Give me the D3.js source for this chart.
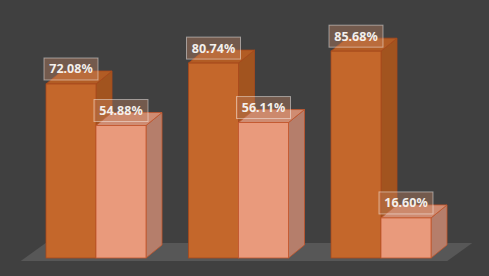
<!DOCTYPE html>
<html>
<head>
<meta charset="utf-8">
<script src="https://cdn.jsdelivr.net/npm/d3@7"></script>
<style>
  html, body { margin: 0; padding: 0; background: #404040; }
  svg { display: block; }
</style>
</head>
<body>
<div id="chart"></div>
<script>
// data
const categories = ["Group 1", "Group 2", "Group 3"]
const series = ["Series 1", "Series 2"]
const series1 = [72.08, 80.74, 85.68]
const series2 = [54.88, 56.11, 16.60]

const width = 489, height = 276
const depth = { dx: 16, dy: -13 }

const svg = d3.select("#chart")
    .append("svg")
        .attr("width", width)
        .attr("height", height)

svg.append("rect")
    .attr("width", width)
    .attr("height", height)
    .attr("fill", "#404040")

// scales
const x0 = d3.scaleBand()
    .domain(categories)
    .range([24.75, 452.25])
    .paddingInner(0.2982)
    .paddingOuter(0.1491)

const x1 = d3.scaleBand()
    .domain(series)
    .range([0, x0.bandwidth()])

const y = d3.scaleLinear()
    .domain([0, 100])
    .range([258, 16.6])

// floor
const fl = x0.range()[0] - 4, fr = x0.range()[1] - 5
const fy = y(0) + 3
svg.append("path")
    .attr("d", `M${fl},${fy} L${fr},${fy} L${fr + 25},${fy - 18} L${fl + 25},${fy - 18} Z`)
    .attr("fill", "#575757")

const styles = {
    "Series 1": { front: "#C4672B", side: "#A2541F", top: "#B25C24", stroke: "#A8491C" },
    "Series 2": { front: "#E99A7C", side: "#B57E6B", top: "#CF8C72", stroke: "#C2552C" }
}

const rows = []
categories.forEach((c, i) => {
    rows.push({ cat: c, s: "Series 1", v: series1[i] })
    rows.push({ cat: c, s: "Series 2", v: series2[i] })
})

const bars = svg.append("g")
    .selectAll("g")
    .data(rows)
    .enter()
    .append("g")

bars.each(function (d) {
    const g = d3.select(this)
    const st = styles[d.s]
    const xl = x0(d.cat) + x1(d.s)
    const xr = xl + x1.bandwidth()
    const yt = y(d.v), yb = y(0)
    // side
    g.append("path")
        .attr("d", `M${xr},${yt} L${xr + depth.dx},${yt + depth.dy} L${xr + depth.dx},${yb + depth.dy} L${xr},${yb} Z`)
        .attr("fill", st.side).attr("stroke", st.stroke).attr("stroke-width", 0.8)
    // top
    g.append("path")
        .attr("d", `M${xl},${yt} L${xl + depth.dx},${yt + depth.dy} L${xr + depth.dx},${yt + depth.dy} L${xr},${yt} Z`)
        .attr("fill", st.top).attr("stroke", st.stroke).attr("stroke-width", 0.8)
    // front
    g.append("rect")
        .attr("x", xl).attr("y", yt)
        .attr("width", xr - xl).attr("height", yb - yt)
        .attr("fill", st.front).attr("stroke", st.stroke).attr("stroke-width", 0.8)
})

// labels
bars.each(function (d) {
    const g = d3.select(this)
    const cx = x0(d.cat) + x1(d.s) + x1.bandwidth() / 2
    const yt = y(d.v)
    g.append("rect")
        .attr("x", cx - 27).attr("y", yt - 26)
        .attr("width", 54).attr("height", 22)
        .attr("fill", "rgba(200,135,100,0.38)")
        .attr("stroke", "rgba(255,255,255,0.45)")
        .attr("stroke-width", 1)
    g.append("text")
        .attr("x", cx).attr("y", yt - 10.5)
        .attr("text-anchor", "middle")
        .attr("font-family", "'Noto Sans', sans-serif")
        .attr("font-weight", "bold")
        .attr("font-size", 12.5)
        .attr("fill", "#F4F0EC")
        .text(d.v.toFixed(2) + "%")
})
</script>
</body>
</html>
